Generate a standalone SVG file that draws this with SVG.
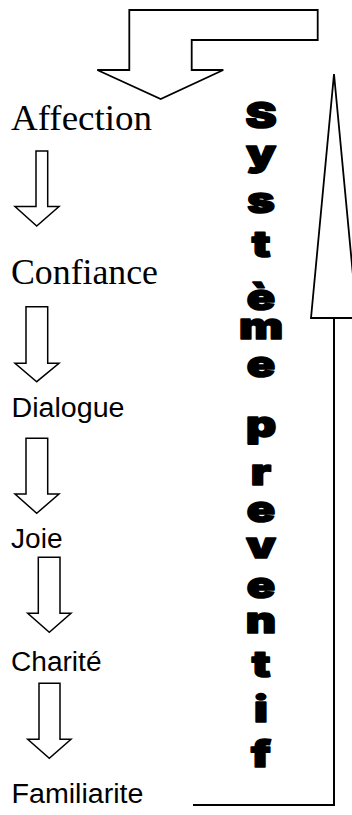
<svg xmlns="http://www.w3.org/2000/svg" width="352" height="815" viewBox="0 0 352 815">
<style>
.bg{fill:#ffffff}
.arrow{fill:#ffffff;stroke:#000000;stroke-width:1.5;stroke-linejoin:miter}
.big{fill:#ffffff;stroke:#000000;stroke-width:1.8;stroke-linejoin:miter}
.line{fill:none;stroke:#000000;stroke-width:2}
.serif{font-family:"Liberation Serif","Times New Roman",serif;font-size:36px;fill:#000000}
.sans{font-family:"Liberation Sans",Arial,sans-serif;font-size:27px;fill:#000000}
.vert{font-family:"Inter","Roboto","Lato","DejaVu Sans",sans-serif;font-weight:900;font-size:36px;fill:#000000;stroke:#000000;stroke-width:1.6;stroke-linejoin:round;text-anchor:middle}
</style>
<rect class="bg" x="0" y="0" width="352" height="815"/>
<g id="connectors">
  <polygon class="big" points="129.3,10 317.7,10 317.7,40 191.7,40 191.7,70 223.3,70 160.7,99 97.3,70 129.3,70"/>
  <polygon class="big" points="334,74 357,318 311,318"/>
  <polyline class="line" points="193,805 334,805 334,318"/>
  <polygon class="arrow" points="36,151 47.7,151 47.7,206.5 59,206.5 36.7,226 15,206.5 36,206.5"/>
  <polygon class="arrow" points="26,306.7 47.7,306.7 47.7,363.3 59,363.3 36.7,381.7 15,363.3 26,363.3"/>
  <polygon class="arrow" points="26,438.3 47.7,438.3 47.7,494 59,494 36.7,513.3 15,494 26,494"/>
  <polygon class="arrow" points="38.3,557.3 60,557.3 60,613.3 71,613.3 49.3,632.3 27.7,613.3 38.3,613.3"/>
  <polygon class="arrow" points="39,683.3 60,683.3 60,739.3 71,739.3 49.3,758.3 27.7,739.3 39,739.3"/>
</g>
<g id="affection"><text class="serif" x="11" y="130" textLength="141" lengthAdjust="spacingAndGlyphs">Affection</text></g>
<g id="confiance"><text class="serif" x="11" y="284" textLength="147" lengthAdjust="spacingAndGlyphs">Confiance</text></g>
<g id="dialogue"><text class="sans" x="11.5" y="416.5" textLength="113" lengthAdjust="spacingAndGlyphs">Dialogue</text></g>
<g id="joie"><text class="sans" x="11" y="548" textLength="51.5" lengthAdjust="spacingAndGlyphs">Joie</text></g>
<g id="charite"><text class="sans" x="11" y="670.5" textLength="90.5" lengthAdjust="spacingAndGlyphs">Charité</text></g>
<g id="familiarite"><text class="sans" x="11.5" y="803" textLength="132" lengthAdjust="spacingAndGlyphs">Familiarite</text></g>
<g id="systeme-preventif">
  <text class="vert" transform="translate(261,128) scale(1.3,1)">S</text>
  <text class="vert" transform="translate(261,166) scale(1.3,1)">y</text>
  <text class="vert" transform="translate(261,213) scale(1.3,1)">s</text>
  <text class="vert" transform="translate(261,257) scale(1.3,1)">t</text>
  <text class="vert" transform="translate(261,310) scale(1.3,1)">è</text>
  <text class="vert" transform="translate(261,339) scale(1.3,1)">m</text>
  <text class="vert" transform="translate(261,377) scale(1.3,1)">e</text>
  <text class="vert" transform="translate(261,437) scale(1.3,1)">p</text>
  <text class="vert" transform="translate(261,485) scale(1.3,1)">r</text>
  <text class="vert" transform="translate(261,522) scale(1.3,1)">e</text>
  <text class="vert" transform="translate(261,558) scale(1.3,1)">v</text>
  <text class="vert" transform="translate(261,598) scale(1.3,1)">e</text>
  <text class="vert" transform="translate(261,633) scale(1.3,1)">n</text>
  <text class="vert" transform="translate(261,677) scale(1.3,1)">t</text>
  <text class="vert" transform="translate(261,722) scale(1.3,1)">i</text>
  <text class="vert" transform="translate(261,767) scale(1.3,1)">f</text>
</g>
</svg>
